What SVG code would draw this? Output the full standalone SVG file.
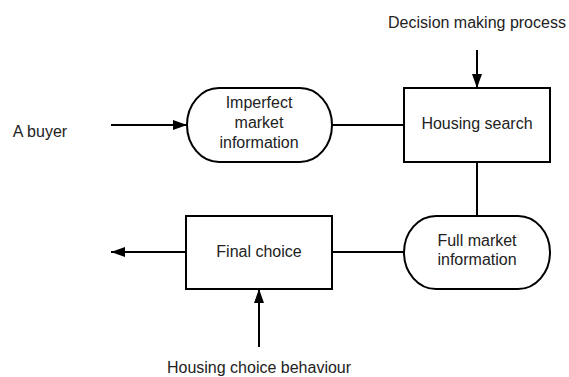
<svg xmlns="http://www.w3.org/2000/svg" width="569" height="377" viewBox="0 0 569 377">
  <style>
    .shape { fill: #ffffff; stroke: #000000; stroke-width: 2; }
    .link { fill: none; stroke: #000000; stroke-width: 2; }
    text { font-family: "Liberation Sans", Arial, sans-serif; font-size: 16px; fill: #222222; text-anchor: middle; dominant-baseline: central; }
  </style>
  <defs>
    <marker id="arrow" viewBox="0 0 14 10" refX="14" refY="5" markerWidth="14" markerHeight="10" markerUnits="userSpaceOnUse" orient="auto">
      <path d="M0,0 L14,5 L0,10 Z" fill="#000000"/>
    </marker>
  </defs>
  <rect width="569" height="377" fill="#ffffff"/>

  <g id="connectors">
    <line class="link" x1="111" y1="125" x2="187" y2="125" marker-end="url(#arrow)"/>
    <line class="link" x1="332" y1="125" x2="404" y2="125"/>
    <line class="link" x1="477" y1="50" x2="477" y2="88" marker-end="url(#arrow)"/>
    <line class="link" x1="477" y1="162" x2="477" y2="216"/>
    <line class="link" x1="404" y1="252" x2="332" y2="252"/>
    <line class="link" x1="186" y1="252" x2="111" y2="252" marker-end="url(#arrow)"/>
    <line class="link" x1="259" y1="347" x2="259" y2="289" marker-end="url(#arrow)"/>
  </g>

  <g id="label-buyer"><text x="40" y="131">A buyer</text></g>
  <g id="label-decision"><text x="477" y="22">Decision making process</text></g>
  <g id="label-behaviour"><text x="259" y="367">Housing choice behaviour</text></g>

  <g id="imperfect-info">
    <rect class="shape" x="187" y="88" width="145" height="74" rx="32" ry="37"/>
    <text x="259" y="102">Imperfect</text>
    <text x="259" y="122">market</text>
    <text x="259" y="142">information</text>
  </g>

  <g id="housing-search">
    <rect class="shape" x="404" y="88" width="146" height="74"/>
    <text x="477" y="123">Housing search</text>
  </g>

  <g id="full-info">
    <rect class="shape" x="404" y="216" width="146" height="73" rx="32" ry="36.5"/>
    <text x="477" y="240">Full market</text>
    <text x="477" y="259">information</text>
  </g>

  <g id="final-choice">
    <rect class="shape" x="186" y="216" width="146" height="73"/>
    <text x="259" y="251">Final choice</text>
  </g>
</svg>
